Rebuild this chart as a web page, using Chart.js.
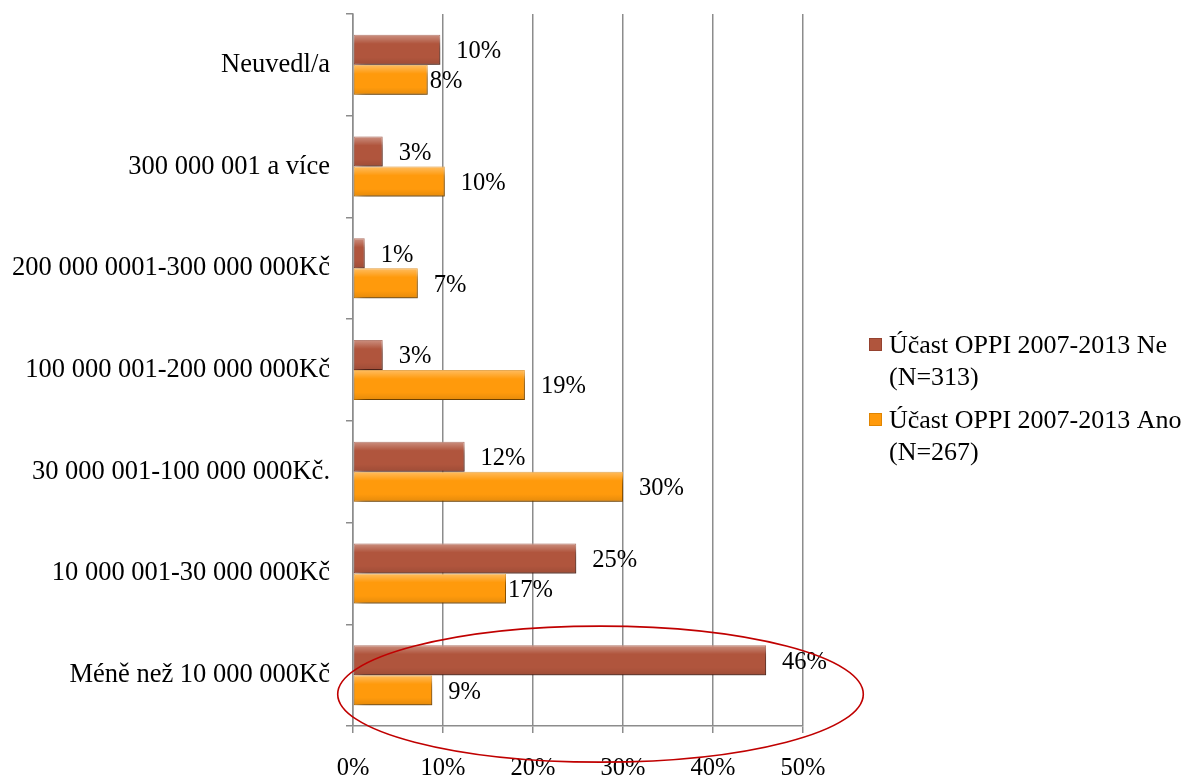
<!DOCTYPE html>
<html>
<head>
<meta charset="utf-8">
<script src="https://cdn.jsdelivr.net/npm/chart.js@4/dist/chart.umd.min.js"></script>
<style>
html,body{margin:0;padding:0;background:#fff;}
#wrap{width:1191px;height:778px;}
</style>
</head>
<body>
<div id="wrap"><canvas id="c" width="1191" height="778"></canvas></div>
<script>
const categories = [
  "Neuvedl/a",
  "300 000 001 a více",
  "200 000 0001-300 000 000Kč",
  "100 000 001-200 000 000Kč",
  "30 000 001-100 000 000Kč.",
  "10 000 001-30 000 000Kč",
  "Méně než 10 000 000Kč"
];
const seriesNames = [
  ["Účast OPPI 2007-2013 Ne", "(N=313)"],
  ["Účast OPPI 2007-2013 Ano", "(N=267)"]
];
const neValues  = [9.7, 3.3, 1.3, 3.3, 12.4, 24.8, 45.9];
const anoValues = [8.3, 10.2, 7.2, 19.1, 30.0, 17.0, 8.8];
const xTicks = [0, 10, 20, 30, 40, 50];
const highlightIndex = 6;

const FONT = "'Liberation Serif','Times New Roman',serif";
const NE_COLOR = "#B0553D";
const ANO_COLOR = "#FF9A0C";

// labels that sit right next to their bar in the original (dataset:index)
const tightLabels = { "1:0": true, "1:5": true };

const shadowPlugin = {
  id: 'shadow',
  beforeDatasetDraw(chart) {
    const ctx = chart.ctx;
    ctx.save();
    ctx.shadowColor = 'rgba(0,0,0,0.5)';
    ctx.shadowBlur = 10;
    ctx.shadowOffsetX = 4;
    ctx.shadowOffsetY = 7;
  },
  afterDatasetDraw(chart) {
    chart.ctx.restore();
  }
};

const glossPlugin = {
  id: 'gloss',
  afterDatasetsDraw(chart) {
    const ctx = chart.ctx;
    chart.data.datasets.forEach((ds, di) => {
      const meta = chart.getDatasetMeta(di);
      meta.data.forEach((bar) => {
        const top = bar.y - bar.height / 2;
        const h = bar.height;
        const left = bar.base;
        const w = bar.x - bar.base;
        const g = ctx.createLinearGradient(0, top, 0, top + h);
        g.addColorStop(0, 'rgba(255,255,255,0.35)');
        g.addColorStop(0.3, 'rgba(255,255,255,0.0)');
        g.addColorStop(0.75, 'rgba(0,0,0,0.0)');
        g.addColorStop(1, 'rgba(0,0,0,0.10)');
        ctx.save();
        ctx.fillStyle = g;
        ctx.fillRect(left, top, w, h);
        ctx.restore();
      });
    });
  }
};

const valueLabelPlugin = {
  id: 'valueLabels',
  afterDatasetsDraw(chart) {
    const ctx = chart.ctx;
    ctx.save();
    ctx.font = "24.5px " + FONT;
    ctx.fillStyle = "#000";
    ctx.textAlign = "left";
    ctx.textBaseline = "middle";
    chart.data.datasets.forEach((ds, di) => {
      const meta = chart.getDatasetMeta(di);
      meta.data.forEach((bar, i) => {
        const v = ds.data[i];
        const gap = tightLabels[di + ":" + i] ? 2 : 16;
        ctx.fillText(Math.round(v) + "%", bar.x + gap, bar.y + 2);
      });
    });
    ctx.restore();
  }
};

const ellipsePlugin = {
  id: 'ellipse',
  afterDraw(chart) {
    const x = chart.scales.x, y = chart.scales.y;
    const cx = x.getPixelForValue(27.5);
    const rx = x.getPixelForValue(29.2) - x.getPixelForValue(0);
    const cy = y.getPixelForValue(highlightIndex) + 19;
    const ry = 68;
    const ctx = chart.ctx;
    ctx.save();
    ctx.strokeStyle = "#C00000";
    ctx.lineWidth = 1.6;
    ctx.beginPath();
    ctx.ellipse(cx, cy, rx, ry, 0, 0, Math.PI * 2);
    ctx.stroke();
    ctx.restore();
  }
};

const legendPlugin = {
  id: 'customLegend',
  afterDraw(chart) {
    const ctx = chart.ctx;
    ctx.save();
    ctx.font = "26px " + FONT;
    ctx.textBaseline = "middle";
    const colors = [NE_COLOR, ANO_COLOR];
    const borders = ["#8E3F2C", "#D98000"];
    const starts = [345, 420];
    seriesNames.forEach((lines, i) => {
      const y0 = starts[i];
      ctx.fillStyle = colors[i];
      ctx.fillRect(869, y0 - 7, 13, 13);
      ctx.strokeStyle = borders[i];
      ctx.lineWidth = 0.8;
      ctx.strokeRect(869.5, y0 - 6.5, 12, 12);
      ctx.fillStyle = "#000";
      ctx.fillText(lines[0], 889, y0 + 1);
      ctx.fillText(lines[1], 889, y0 + 33);
    });
    ctx.restore();
  }
};

new Chart(document.getElementById('c'), {
  type: 'bar',
  data: {
    labels: categories,
    datasets: [
      {
        label: seriesNames[0].join(' '),
        data: neValues,
        backgroundColor: NE_COLOR,
        borderColor: "#9A4632",
        borderWidth: 1,
        borderSkipped: false,
        categoryPercentage: 0.59,
        barPercentage: 1.0
      },
      {
        label: seriesNames[1].join(' '),
        data: anoValues,
        backgroundColor: ANO_COLOR,
        borderColor: "#E08400",
        borderWidth: 1,
        borderSkipped: false,
        categoryPercentage: 0.59,
        barPercentage: 1.0
      }
    ]
  },
  options: {
    indexAxis: 'y',
    responsive: false,
    animation: false,
    devicePixelRatio: 1,
    layout: { padding: { top: 14, right: 388, left: 0, bottom: 0 } },
    plugins: {
      legend: { display: false },
      tooltip: { enabled: false },
      title: { display: false }
    },
    scales: {
      x: {
        min: 0,
        max: 50,
        afterBuildTicks(scale) { scale.ticks = xTicks.map(v => ({ value: v })); },
        afterFit(scale) { scale.height = 52; scale.paddingLeft = 0; scale.paddingRight = 0; },
        ticks: {
          callback: v => v + "%",
          color: "#000",
          font: { family: FONT, size: 24.5 },
          padding: 21
        },
        grid: {
          color: "#8C8C8C",
          lineWidth: 1.5,
          tickLength: 7,
          drawTicks: true
        },
        border: { display: true, color: "#8C8C8C", width: 1.5 }
      },
      y: {
        afterFit(scale) { scale.width = 353; scale.paddingTop = 0; scale.paddingBottom = 0; },
        ticks: {
          color: "#000",
          font: { family: FONT, size: 26.5 },
          padding: 16
        },
        grid: {
          offset: true,
          drawOnChartArea: false,
          drawTicks: true,
          tickLength: 7,
          color: "#8C8C8C",
          lineWidth: 1.5
        },
        border: { display: true, color: "#8C8C8C", width: 1.5 }
      }
    }
  },
  plugins: [shadowPlugin, glossPlugin, valueLabelPlugin, ellipsePlugin, legendPlugin]
});
</script>
</body>
</html>
